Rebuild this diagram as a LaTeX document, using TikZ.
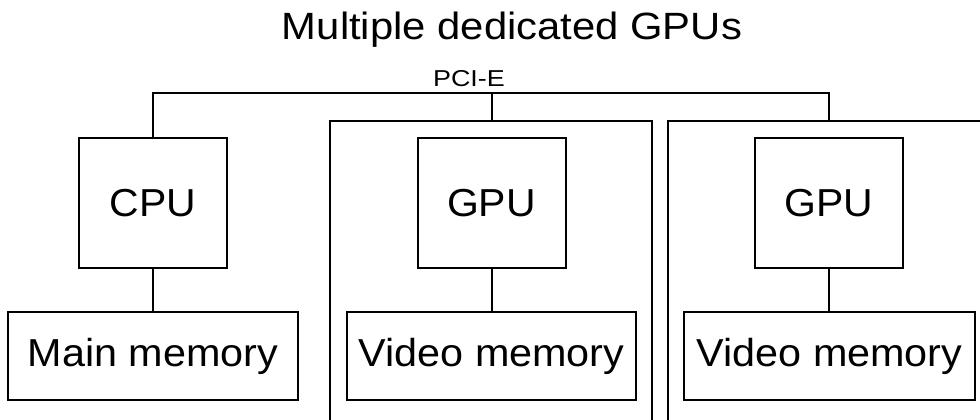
\documentclass[tikz,border=0pt]{standalone}
\usepackage{fontspec}
\setmainfont{Liberation Sans}
\tikzset{
  unit/.style={draw, line width=2pt, inner sep=0pt, minimum width=148pt, minimum height=130pt, font=\fontsize{39}{41}\selectfont},
  mem/.style={draw, line width=2pt, inner sep=0pt, minimum height=88pt, font=\fontsize{39}{41}\selectfont},
  wire/.style={line width=2pt},
}
\newcommand{\hstretch}[2]{\scalebox{#1}[1]{#2}}
\begin{document}
\begin{tikzpicture}[x=1pt,y=-1pt]
\useasboundingbox (0,0) rectangle (980,420);
\node[anchor=base, font=\fontsize{38}{40}\selectfont] (title) at (512,40) {\hstretch{1.1}{Multiple dedicated GPUs}};
\node[anchor=base, font=\fontsize{23}{25}\selectfont] (pcie) at (469,86) {\hstretch{1.17}{PCI-E}};

\node[unit] (cpu) at (153,203) {\hstretch{1.05}{CPU}};
\node[unit] (gpu1) at (491.5,203) {\hstretch{1.05}{GPU}};
\node[unit] (gpu2) at (829,203) {\hstretch{1.05}{GPU}};

\node[mem, minimum width=290pt] (mm) at (153,356) {\hstretch{1.06}{Main memory}};
\node[mem, minimum width=289pt] (vm1) at (491.5,356) {\hstretch{1.06}{Video memory}};
\node[mem, minimum width=291pt] (vm2) at (829.5,356) {\hstretch{1.06}{Video memory}};

% enclosures
\coordinate (e1top) at (491.5,121);
\coordinate (e2top) at (829,121);
\draw[wire] (330,420) -- (330,121) -- (652,121) -- (652,420);
\draw[wire] (668,420) -- (668,121) -- (980,121);

% bus
\coordinate (busL) at (153,93);
\coordinate (busM) at (491.5,93);
\coordinate (busR) at (829,93);
\draw[wire] (cpu.north) -- (busL) -- (busR) -- (e2top);
\draw[wire] (busM) -- (e1top);

\draw[wire] (cpu.south) -- (cpu.south |- mm.north);
\draw[wire] (gpu1.south) -- (gpu1.south |- vm1.north);
\draw[wire] (gpu2.south) -- (gpu2.south |- vm2.north);
\end{tikzpicture}
\end{document}
